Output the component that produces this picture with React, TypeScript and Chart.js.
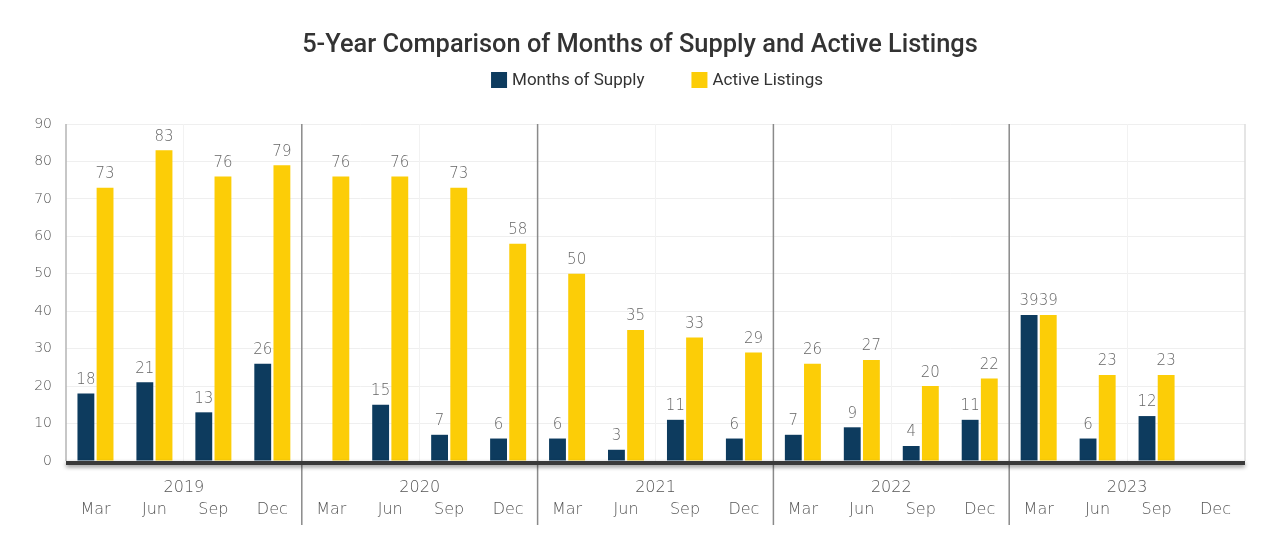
import React, { useEffect, useRef } from "react";
import { Chart, registerables } from "chart.js";

Chart.register(...registerables);

const MONTHS = [
  "Mar", "Jun", "Sep", "Dec",
  "Mar", "Jun", "Sep", "Dec",
  "Mar", "Jun", "Sep", "Dec",
  "Mar", "Jun", "Sep", "Dec",
  "Mar", "Jun", "Sep", "Dec",
];
const YEARS = ["2019", "2020", "2021", "2022", "2023"];
const MONTHS_OF_SUPPLY: (number | null)[] = [
  18, 21, 13, 26,
  null, 15, 7, 6,
  6, 3, 11, 6,
  7, 9, 4, 11,
  39, 6, 12, null,
];
const ACTIVE_LISTINGS: (number | null)[] = [
  73, 83, 76, 79,
  76, 76, 73, 58,
  50, 35, 33, 29,
  26, 27, 20, 22,
  39, 23, 23, null,
];
const Y_TICKS = [0, 10, 20, 30, 40, 50, 60, 70, 80, 90];
const TITLE = "5-Year Comparison of Months of Supply and Active Listings";

const NAVY = "#0d3b5e";
const YELLOW = "#fccd07";
const LIGHT_FONT = "'DejaVu Sans', sans-serif";
const LEGEND_FONT = "17px Roboto, sans-serif";
const TITLE_FONT = "500 25.4px Roboto, sans-serif";

const decorPlugin = {
  id: "decor",
  beforeDatasetsDraw(chart: any) {
    const { ctx, chartArea } = chart;
    const { left, right, top, bottom } = chartArea;
    ctx.save();
    ctx.strokeStyle = "#b5b5b5";
    ctx.lineWidth = 1.5;
    ctx.beginPath();
    ctx.moveTo(left, top);
    ctx.lineTo(left, bottom);
    ctx.stroke();
    ctx.strokeStyle = "#dcdcdc";
    ctx.beginPath();
    ctx.moveTo(right, top);
    ctx.lineTo(right, bottom);
    ctx.stroke();
    ctx.restore();
  },
  afterDatasetsDraw(chart: any) {
    const { ctx, chartArea } = chart;
    const { left, right, bottom } = chartArea;
    // year separators
    ctx.save();
    ctx.strokeStyle = "#8a8a8a";
    ctx.lineWidth = 1.5;
    const n = MONTHS.length;
    const step = (right - left) / n;
    for (let g = 1; g < YEARS.length; g++) {
      const xx = left + g * 4 * step;
      ctx.beginPath();
      ctx.moveTo(xx, chartArea.top);
      ctx.lineTo(xx, bottom + 64);
      ctx.stroke();
    }
    ctx.restore();
    // thick base line with shadow
    ctx.save();
    ctx.shadowColor = "rgba(0,0,0,0.45)";
    ctx.shadowBlur = 4;
    ctx.shadowOffsetY = 2;
    ctx.fillStyle = "#3a3a3a";
    ctx.fillRect(left, bottom, right - left, 4);
    ctx.restore();
    // data labels
    ctx.save();
    ctx.font = `300 15px ${LIGHT_FONT}`;
    ctx.fillStyle = "#666";
    ctx.textAlign = "center";
    ctx.textBaseline = "bottom";
    chart.data.datasets.forEach((ds: any, di: number) => {
      const meta = chart.getDatasetMeta(di);
      meta.data.forEach((bar: any, i: number) => {
        const v = ds.data[i];
        if (v === null || v === undefined) return;
        ctx.fillText(String(v), bar.x, bar.y - 6);
      });
    });
    ctx.restore();
  },
  afterDraw(chart: any) {
    const { ctx } = chart;
    // title
    ctx.save();
    ctx.font = TITLE_FONT;
    ctx.fillStyle = "#333";
    ctx.textAlign = "center";
    ctx.textBaseline = "middle";
    ctx.fillText(TITLE, chart.width / 2, 38);
    ctx.restore();
    // legend
    ctx.save();
    ctx.font = LEGEND_FONT;
    ctx.textBaseline = "middle";
    ctx.textAlign = "left";
    const items = chart.data.datasets.map((d: any) => ({ label: d.label, color: d.backgroundColor }));
    const box = 16, gapText = 5, gapItem = 47;
    const widths = items.map((it: any) => box + gapText + ctx.measureText(it.label).width);
    const total = widths.reduce((a: number, b: number) => a + b, 0) + gapItem * (items.length - 1);
    let x = chart.width / 2 + 17 - total / 2;
    const cy = 72;
    items.forEach((it: any, i: number) => {
      ctx.fillStyle = it.color;
      ctx.fillRect(x, cy - box / 2, box, box);
      ctx.fillStyle = "#333";
      ctx.fillText(it.label, x + box + gapText, cy + 1);
      x += widths[i] + gapItem;
    });
    ctx.restore();
  },
};

export default function App() {
  const ref = useRef<HTMLCanvasElement | null>(null);
  useEffect(() => {
    if (!ref.current) return;
    const chart = new Chart(ref.current, {
      type: "bar",
      data: {
        labels: MONTHS,
        datasets: [
          {
            label: "Months of Supply",
            data: MONTHS_OF_SUPPLY,
            backgroundColor: NAVY,
            borderWidth: 0,
            categoryPercentage: 0.65,
            barPercentage: 0.88,
          },
          {
            label: "Active Listings",
            data: ACTIVE_LISTINGS,
            backgroundColor: YELLOW,
            borderWidth: 0,
            categoryPercentage: 0.65,
            barPercentage: 0.88,
          },
        ],
      },
      options: {
        animation: false,
        responsive: true,
        maintainAspectRatio: false,
        layout: { padding: { left: 0, right: 27, top: 116, bottom: 20 } },
        plugins: {
          title: { display: false },
          legend: { display: false },
          tooltip: { enabled: false },
        },
        scales: {
          y: {
            min: 0,
            max: 90,
            afterFit: (s: any) => { s.width = 58; },
            afterBuildTicks: (s: any) => { s.ticks = Y_TICKS.map((v) => ({ value: v })); },
            ticks: {
              color: "#555",
              padding: 14,
              font: { family: LIGHT_FONT, size: 14, weight: 300 as any },
            },
            grid: { color: "#efefef", drawTicks: false },
            border: { display: false },
          },
          x: {
            weight: 2,
            afterFit: (s: any) => { s.height = 26; },
            ticks: {
              color: "#555",
              padding: 5,
              maxRotation: 0,
              autoSkip: false,
              font: { family: LIGHT_FONT, size: 16, weight: 300 as any },
            },
            grid: {
              offset: true,
              drawTicks: false,
              color: (c: any) => (c.index % 2 === 0 && c.index % 4 !== 0 ? "#f2f2f2" : "rgba(0,0,0,0)"),
            },
            border: { display: false },
          },
          x2: {
            type: "category",
            labels: YEARS,
            position: "bottom",
            weight: 1,
            offset: true,
            afterFit: (s: any) => { s.height = 34; },
            ticks: {
              color: "#555",
              padding: 17,
              maxRotation: 0,
              font: { family: LIGHT_FONT, size: 16, weight: 300 as any },
            },
            grid: { display: false, drawTicks: false },
            border: { display: false },
          },
        },
      },
      plugins: [decorPlugin],
    });
    return () => chart.destroy();
  }, []);
  return (
    <div style={{ width: 1264, height: 533, position: "relative" }}>
      <canvas ref={ref} />
    </div>
  );
}
